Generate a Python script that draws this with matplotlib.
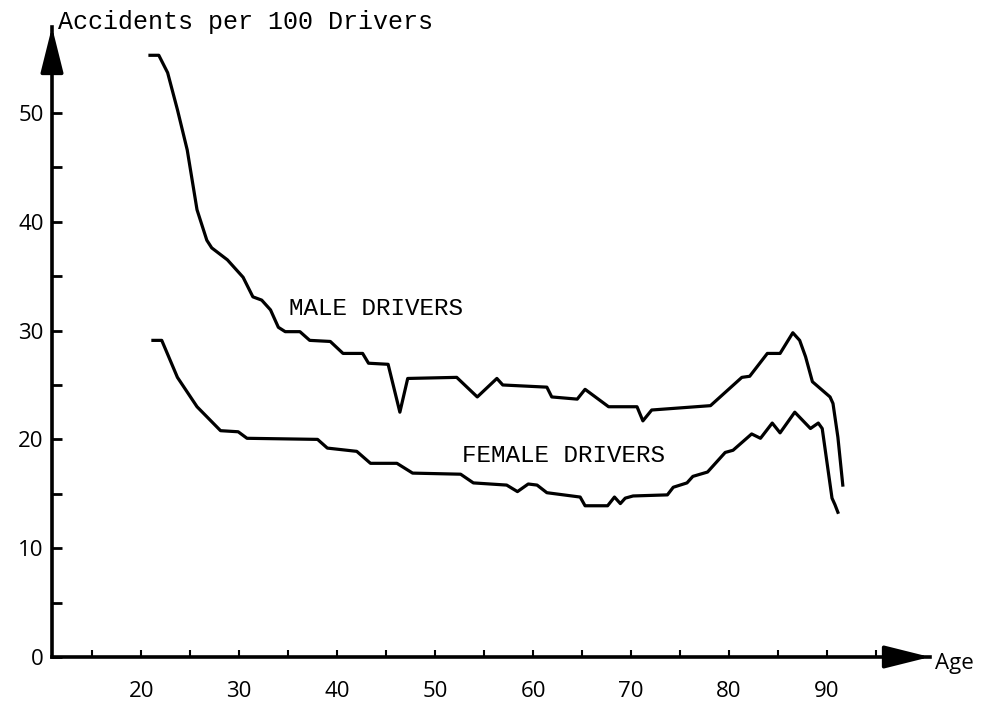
import matplotlib
matplotlib.use("Agg")
import matplotlib.pyplot as plt

# accidents per 100 drivers
male_age = [20.9, 21.8, 22.7, 23.7, 24.7, 25.7, 26.7, 27.2, 28.8, 30.4, 31.4, 32.3,
            33.2, 34.0, 34.7, 36.2, 37.2, 39.3, 40.6, 42.6, 43.2, 45.2, 46.4, 47.2,
            52.2, 54.3, 56.3, 56.9, 61.4, 61.9, 64.5, 65.3, 67.7, 70.6, 71.2, 72.1,
            78.1, 81.3, 82.1, 83.9, 85.2, 86.5, 87.2, 87.8, 88.5, 90.3, 90.6, 91.1, 91.6]
male_rate = [55.3, 55.3, 53.7, 50.3, 46.6, 41.1, 38.3, 37.6, 36.5, 34.9, 33.1, 32.8,
             31.9, 30.3, 29.9, 29.9, 29.1, 29.0, 27.9, 27.9, 27.0, 26.9, 22.5, 25.6,
             25.7, 23.9, 25.6, 25.0, 24.8, 23.9, 23.7, 24.6, 23.0, 23.0, 21.7, 22.7,
             23.1, 25.7, 25.8, 27.9, 27.9, 29.8, 29.1, 27.6, 25.3, 23.9, 23.3, 20.2, 15.8]

female_age = [21.2, 22.1, 23.7, 25.7, 28.1, 29.9, 30.8, 38.0, 39.0, 42.0, 43.4, 46.1,
              47.7, 52.6, 53.9, 57.3, 58.4, 59.5, 60.4, 61.4, 64.8, 65.3, 67.6, 68.3,
              68.9, 69.4, 70.2, 73.7, 74.3, 75.7, 76.3, 77.8, 79.6, 80.4, 82.3, 83.2,
              84.4, 85.2, 86.7, 88.3, 89.1, 89.5, 90.5, 90.8, 91.1]
female_rate = [29.1, 29.1, 25.7, 23.0, 20.8, 20.7, 20.1, 20.0, 19.2, 18.9, 17.8, 17.8,
               16.9, 16.8, 16.0, 15.8, 15.2, 15.9, 15.8, 15.1, 14.7, 13.9, 13.9, 14.7,
               14.1, 14.6, 14.8, 14.9, 15.6, 16.0, 16.6, 17.0, 18.8, 19.0, 20.5, 20.1,
               21.5, 20.6, 22.5, 21.0, 21.5, 21.0, 14.6, 14.0, 13.3]

x_ticks = list(range(15, 100, 5))
x_labels = [str(t) if t % 10 == 0 else "" for t in x_ticks]
y_ticks = list(range(0, 55, 5))
y_labels = [str(t) if t % 10 == 0 else "" for t in y_ticks]

W, H = 982, 703
fig = plt.figure(figsize=(W / 100, H / 100), dpi=100)
ax = fig.add_axes([52 / W, 46 / H, (930 - 52) / W, (657 - 27) / H])

xmin, xmax = 10.9, 100.5
ymin, ymax = 0, 57.9
ax.set_xlim(xmin, xmax)
ax.set_ylim(ymin, ymax)

mono = "Liberation Mono"
sans = "Open Sans"

ax.plot(male_age, male_rate, color="black", lw=2.3, solid_joinstyle="round")
ax.plot(female_age, female_rate, color="black", lw=2.3, solid_joinstyle="round")

ax.text(35.1, 32.0, "MALE DRIVERS", family=mono, fontsize=17.5, va="center", ha="left")
ax.text(52.7, 18.5, "FEMALE DRIVERS", family=mono, fontsize=17.5, va="center", ha="left")

for side in ["top", "right"]:
    ax.spines[side].set_visible(False)
for side in ["left", "bottom"]:
    ax.spines[side].set_linewidth(2.6)

ax.set_xticks(x_ticks)
ax.set_xticklabels(x_labels, family=sans, fontsize=16)
ax.set_yticks(y_ticks)
ax.set_yticklabels(y_labels, family=sans, fontsize=16)
ax.tick_params(axis="x", direction="in", length=5, width=1.5, pad=17)
ax.tick_params(axis="y", direction="in", length=7, width=2, pad=6)

# arrow heads on the axes
ax.annotate("", xy=(xmax, 0), xytext=(xmax - 3.2, 0), annotation_clip=False,
            arrowprops=dict(arrowstyle="-|>,head_length=1.4,head_width=0.35",
                            color="black", lw=2.6, shrinkA=0, shrinkB=0,
                            mutation_scale=20))
ax.annotate("", xy=(xmin, ymax), xytext=(xmin, ymax - 2.9), annotation_clip=False,
            arrowprops=dict(arrowstyle="-|>,head_length=1.4,head_width=0.35",
                            color="black", lw=2.6, shrinkA=0, shrinkB=0,
                            mutation_scale=20))

fig.text(58 / W, 1 - 22 / H, "Accidents per 100 Drivers", family=mono, fontsize=18,
         va="center", ha="left")
fig.text(935 / W, 1 - 664 / H, "Age", family=sans, fontsize=16, va="center", ha="left")

fig.savefig("out.png", dpi=100)
plt.close(fig)
